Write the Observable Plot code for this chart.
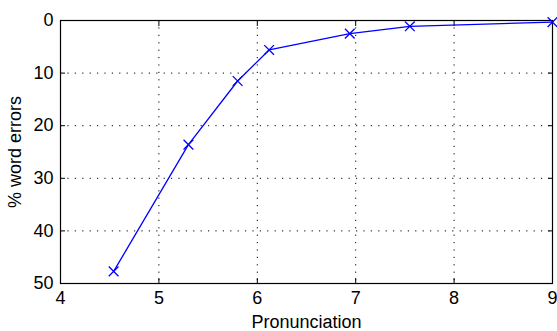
<!DOCTYPE html>
<html>
<head>
<meta charset="utf-8">
<script src="https://cdn.jsdelivr.net/npm/d3@7"></script>
<script src="https://cdn.jsdelivr.net/npm/@observablehq/plot@0.6"></script>
<style>
  html, body { margin: 0; padding: 0; background: #fff; }
  #chart svg { display: block; }
</style>
</head>
<body>
<div id="chart"></div>
<script>
const pronunciation = [4.54, 5.30, 5.80, 6.12, 6.94, 7.55, 9.0];
const wordErrors = [47.7, 23.6, 11.5, 5.6, 2.5, 1.1, 0.3];
const xTicks = [4, 5, 6, 7, 8, 9];
const yTicks = [0, 10, 20, 30, 40, 50];

const data = pronunciation.map((x, i) => ({x, y: wordErrors[i]}));
const font = "'Liberation Sans', Arial, Helvetica, sans-serif";
const noLabel = () => "";

const chart = Plot.plot({
  width: 557,
  height: 331,
  marginLeft: 60,
  marginRight: 5,
  marginTop: 20,
  marginBottom: 48,
  style: {fontFamily: font, fontSize: "18px", color: "#000", background: "#fff"},
  x: {domain: [4, 9]},
  y: {domain: [0, 50], reverse: true},
  marks: [
    Plot.gridX(xTicks.slice(1, -1), {stroke: "#000", strokeOpacity: 1, strokeDasharray: "1.2,6.2", strokeWidth: 1}),
    Plot.gridY(yTicks.slice(1, -1), {stroke: "#000", strokeOpacity: 1, strokeDasharray: "1.2,6.2", strokeWidth: 1}),
    Plot.axisX(xTicks, {anchor: "bottom", tickSize: -5, tickPadding: 13, label: "Pronunciation", labelAnchor: "center", labelArrow: "none", labelOffset: 44, fontSize: 18}),
    Plot.axisX(xTicks, {anchor: "top", tickSize: -5, tickFormat: noLabel, label: null}),
    Plot.axisY(yTicks, {anchor: "left", tickSize: -5, tickPadding: 12, label: "% word errors", labelAnchor: "center", labelArrow: "none", labelOffset: 52, fontSize: 18}),
    Plot.axisY(yTicks, {anchor: "right", tickSize: -5, tickFormat: noLabel, label: null}),
    Plot.frame({stroke: "#000", strokeWidth: 1.2}),
    Plot.line(data, {x: "x", y: "y", stroke: "#0000ff", strokeWidth: 1.3}),
    Plot.dot(data, {x: "x", y: "y", symbol: "times", r: 4.5, stroke: "#0000ff", strokeWidth: 1.3})
  ]
});
document.getElementById("chart").appendChild(chart);
</script>
</body>
</html>
